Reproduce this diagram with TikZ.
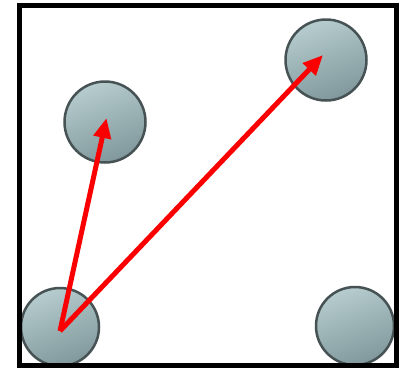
\documentclass[tikz,border=0pt]{standalone}
\usetikzlibrary{arrows.meta}
\definecolor{balllight}{RGB}{182,204,206}
\definecolor{balldark}{RGB}{128,152,156}
\definecolor{ballrim}{RGB}{70,82,84}
\definecolor{arrowred}{RGB}{250,0,0}
\tikzset{
  ball/.style={circle, minimum size=78pt, inner sep=0pt, draw=ballrim, line width=2.5pt,
    top color=balllight, bottom color=balldark, shading angle=20},
  frame/.style={draw=black, line width=5pt},
  move/.style={draw=arrowred, line width=5pt, -{Triangle[length=20pt,width=17pt]}}
}
\begin{document}
\begin{tikzpicture}[x=1pt,y=-1pt]
\useasboundingbox (0,0) rectangle (403,370);
\fill[white] (0,0) rectangle (403,370);
\node[ball] (bl) at (60,327) {};
\node[ball] (br) at (355,326) {};
\node[ball, minimum size=81pt] (tr) at (326,60) {};
\node[ball, minimum size=81pt] (ml) at (105,122) {};
\coordinate (start) at (60,331);
\coordinate (tipml) at (106.5,118);
\coordinate (tiptr) at (323,55);
\draw[frame] (19,5) rectangle (396,365);
\draw[move] (start) -- (tipml);
\draw[move] (start) -- (tiptr);
\end{tikzpicture}
\end{document}
